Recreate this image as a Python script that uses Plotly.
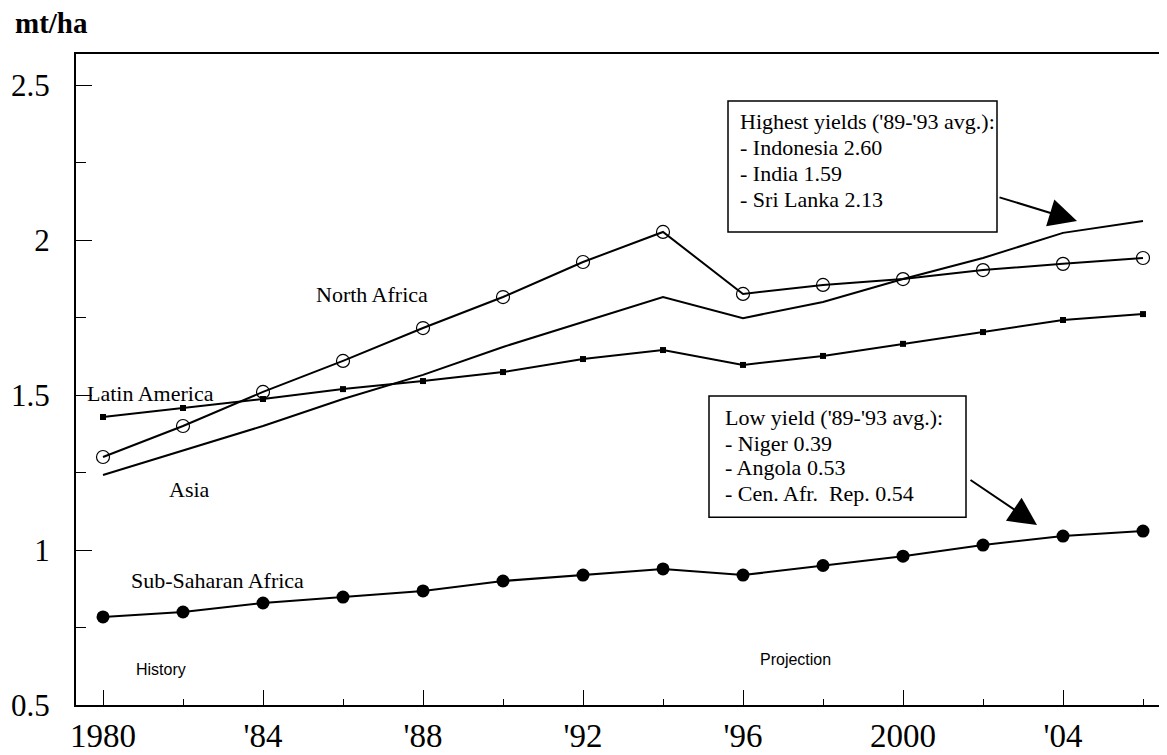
import plotly.graph_objects as go

years = [1980, 1982, 1984, 1986, 1988, 1990, 1992, 1994, 1996, 1998, 2000, 2002, 2004, 2006]
north_africa = [1.30, 1.40, 1.51, 1.61, 1.716, 1.816, 1.929, 2.026, 1.826, 1.855, 1.874, 1.903, 1.923, 1.942]
latin_america = [1.429, 1.458, 1.487, 1.519, 1.545, 1.574, 1.616, 1.645, 1.597, 1.626, 1.665, 1.703, 1.742, 1.761]
asia = [1.242, 1.32, 1.40, 1.487, 1.565, 1.655, 1.735, 1.816, 1.748, 1.80, 1.874, 1.942, 2.023, 2.061]
sub_saharan = [0.784, 0.80, 0.829, 0.848, 0.868, 0.90, 0.919, 0.939, 0.919, 0.95, 0.98, 1.016, 1.045, 1.061]

x_tickvals = [1980, 1984, 1988, 1992, 1996, 2000, 2004]
x_ticktext = ["1980", "'84", "'88", "'92", "'96", "2000", "'04"]
y_tickvals = [0.5, 1.0, 1.5, 2.0, 2.5]
y_ticktext = ["0.5", "1", "1.5", "2", "2.5"]

box_high = ["Highest yields ('89-'93 avg.):", "- Indonesia 2.60", "- India 1.59", "- Sri Lanka 2.13"]
box_low = ["Low yield ('89-'93 avg.):", "- Niger 0.39", "- Angola 0.53", "- Cen. Afr.  Rep. 0.54"]

SERIF = "Liberation Serif"
SANS = "Liberation Sans"

fig = go.Figure()
fig.add_trace(go.Scatter(x=years, y=asia, mode="lines", line=dict(color="black", width=2), name="Asia"))
fig.add_trace(go.Scatter(x=years, y=latin_america, mode="lines+markers", line=dict(color="black", width=2),
                         marker=dict(symbol="square", size=6, color="black"), name="Latin America"))
fig.add_trace(go.Scatter(x=years, y=north_africa, mode="lines+markers", line=dict(color="black", width=2),
                         marker=dict(symbol="circle-open", size=13, color="black", line=dict(width=1.2)),
                         name="North Africa"))
fig.add_trace(go.Scatter(x=years, y=sub_saharan, mode="lines+markers", line=dict(color="black", width=2),
                         marker=dict(symbol="circle", size=13, color="black"), name="Sub-Saharan Africa"))

def ann(x, y, text, size=22, family=SERIF, xanchor="center", **kw):
    fig.add_annotation(x=x, y=y, xref="x", yref="y", text=text, showarrow=False,
                       font=dict(family=family, size=size, color="black"), xanchor=xanchor, **kw)

# series labels
ann(1981.175, 1.505, "Latin America")
ann(1982.15, 1.194, "Asia")
ann(1986.725, 1.823, "North Africa")
ann(1982.85, 0.903, "Sub-Saharan Africa")
ann(1981.45, 0.613, "History", size=16, family=SANS)
ann(1997.3, 0.648, "Projection", size=16, family=SANS)

# boxes
fig.add_shape(type="rect", xref="x", yref="y", x0=1995.625, x1=2002.35, y0=2.026, y1=2.448,
              line=dict(color="black", width=1.5), fillcolor="white", layer="above")
fig.add_shape(type="rect", xref="x", yref="y", x0=1995.15, x1=2001.575, y0=1.106, y1=1.497,
              line=dict(color="black", width=1.5), fillcolor="white", layer="above")
for t, yv in zip(box_high, [2.381, 2.30, 2.216, 2.132]):
    ann(1995.875, yv, t, size=22, xanchor="left")
for t, yv in zip(box_low, [1.426, 1.345, 1.265, 1.181]):
    ann(1995.5, yv, t, size=22, xanchor="left")

# arrows
fig.add_annotation(x=2004.35, y=2.061, ax=2002.375, ay=2.139, xref="x", yref="y", axref="x", ayref="y",
                   text="", showarrow=True, arrowhead=2, arrowsize=2.8, arrowwidth=2, arrowcolor="black")
fig.add_annotation(x=2003.35, y=1.081, ax=2001.65, ay=1.229, xref="x", yref="y", axref="x", ayref="y",
                   text="", showarrow=True, arrowhead=2, arrowsize=2.8, arrowwidth=2, arrowcolor="black")

# unit label
fig.add_annotation(x=-0.058, y=1.0, xref="paper", yref="paper", text="<b>mt/ha</b>", showarrow=False,
                   xanchor="left", yanchor="bottom", yshift=13,
                   font=dict(family=SERIF, size=29, color="black"))

# page body has an 8px margin: figure is sized to fit the 1167x755 window exactly
fig.update_layout(
    width=1159, height=747,
    margin=dict(l=68, r=0, t=46, b=50, autoexpand=False),
    paper_bgcolor="white", plot_bgcolor="white",
    showlegend=False,
    xaxis=dict(range=[1979.325, 2006.6], tickvals=x_tickvals, ticktext=x_ticktext, automargin=False,
               ticks="inside", ticklen=15, tickwidth=1.2, tickcolor="black",
               minor=dict(tickvals=[1982, 1986, 1990, 1994, 1998, 2002, 2006], ticks="inside", ticklen=6,
                          tickcolor="black", tickwidth=1.2),
               showline=True, linecolor="black", linewidth=2, mirror=True,
               showgrid=False, zeroline=False,
               tickfont=dict(family=SERIF, size=33, color="black"), ticklabelstandoff=0),
    yaxis=dict(range=[0.5, 2.6], tickvals=y_tickvals, ticktext=y_ticktext, automargin=False,
               ticks="inside", ticklen=16, tickwidth=1.2, tickcolor="black",
               minor=dict(tickvals=[0.75, 1.25, 1.75, 2.25], ticks="inside", ticklen=10,
                          tickcolor="black", tickwidth=1.2),
               showline=True, linecolor="black", linewidth=2,
               showgrid=False, zeroline=False,
               tickfont=dict(family=SERIF, size=31, color="black"), ticklabelstandoff=18),
)

fig.write_html("out.html")
